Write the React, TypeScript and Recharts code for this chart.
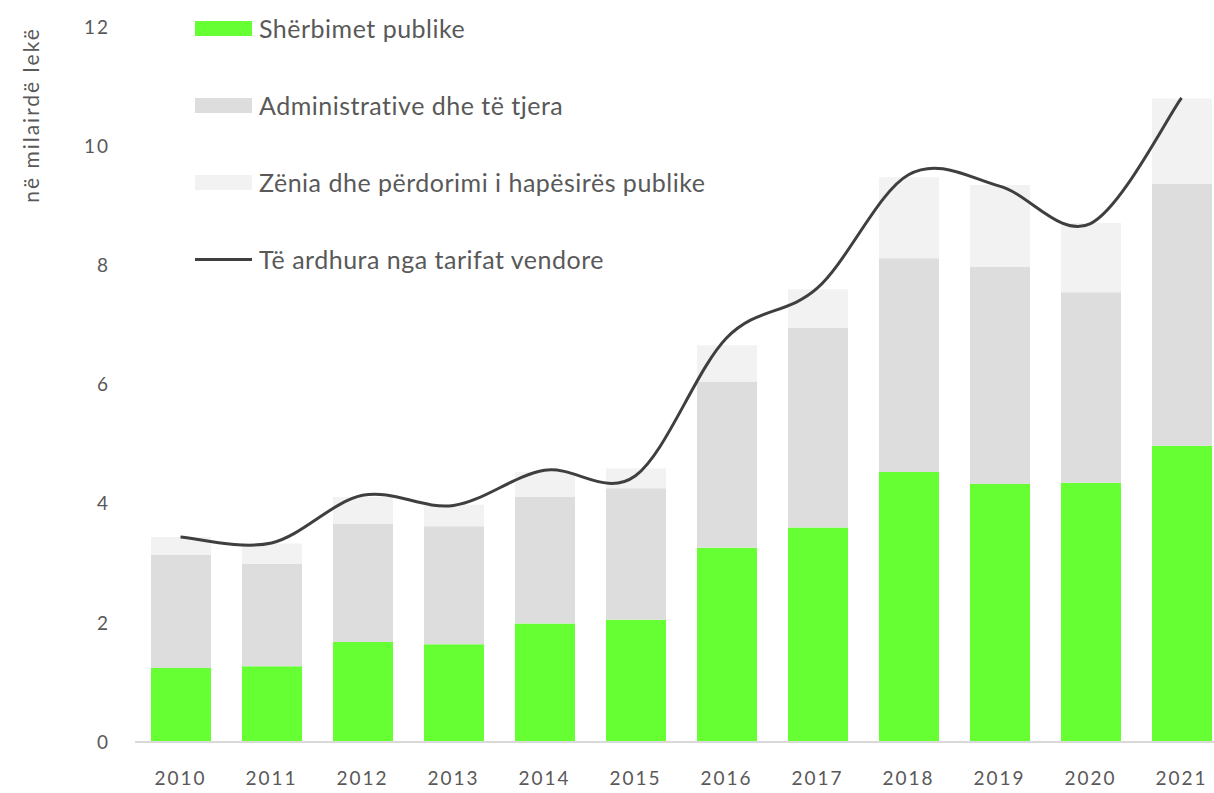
import { Bar, ComposedChart, Label, Legend, Line, XAxis, YAxis } from "recharts";

const years = ["2010", "2011", "2012", "2013", "2014", "2015", "2016", "2017", "2018", "2019", "2020", "2021"];
const sherbimet = [1.24, 1.27, 1.68, 1.64, 1.99, 2.05, 3.26, 3.6, 4.53, 4.33, 4.35, 4.97];
const administrative = [1.9, 1.72, 1.98, 1.98, 2.12, 2.21, 2.79, 3.35, 3.59, 3.64, 3.2, 4.4];
const zenia = [0.3, 0.34, 0.45, 0.36, 0.42, 0.33, 0.61, 0.65, 1.36, 1.38, 1.16, 1.43];
const tarifat = [3.44, 3.34, 4.14, 3.97, 4.56, 4.47, 6.78, 7.62, 9.52, 9.33, 8.7, 10.81];
const yTicks = [0, 2, 4, 6, 8, 10, 12];

const data = years.map((year, i) => ({
  year,
  sherbimet: sherbimet[i],
  administrative: administrative[i],
  zenia: zenia[i],
  tarifat: tarifat[i],
}));

const TEXT = "#595959";
const FONT = "Lato, 'Open Sans', sans-serif";

// excel-like smoothing (catmull-rom through the points)
const smoothCurve = (context: any) => {
  let pts: number[][] = [];
  return {
    areaStart() {},
    areaEnd() {},
    lineStart() {
      pts = [];
    },
    point(x: number, y: number) {
      pts.push([+x, +y]);
    },
    lineEnd() {
      if (!pts.length) return;
      context.moveTo(pts[0][0], pts[0][1]);
      for (let i = 0; i < pts.length - 1; i++) {
        const p0 = pts[i - 1] || pts[i];
        const p1 = pts[i];
        const p2 = pts[i + 1];
        const p3 = pts[i + 2] || p2;
        context.bezierCurveTo(
          p1[0] + (p2[0] - p0[0]) / 6,
          p1[1] + (p2[1] - p0[1]) / 6,
          p2[0] - (p3[0] - p1[0]) / 6,
          p2[1] - (p3[1] - p1[1]) / 6,
          p2[0],
          p2[1]
        );
      }
    },
  };
};

const legendItems = [
  { name: "Shërbimet publike", color: "#66FF33", type: "bar" },
  { name: "Administrative dhe të tjera", color: "#DDDDDD", type: "bar" },
  { name: "Zënia dhe përdorimi i hapësirës publike", color: "#F2F2F2", type: "bar" },
  { name: "Të ardhura nga tarifat vendore", color: "#3F3F3F", type: "line" },
];

const renderLegend = () => (
  <div style={{ fontFamily: FONT }}>
    {legendItems.map((item) => (
      <div
        key={item.name}
        style={{ display: "flex", alignItems: "center", height: 32, marginBottom: 45 }}
      >
        <div
          style={{
            width: 57,
            height: item.type === "bar" ? 15 : 3,
            background: item.color,
            marginRight: 7,
          }}
        />
        <span style={{ fontSize: 25, letterSpacing: 0.5, color: TEXT, whiteSpace: "nowrap" }}>
          {item.name}
        </span>
      </div>
    ))}
  </div>
);

const tickStyle = { fill: TEXT, fontSize: 19, fontFamily: FONT, letterSpacing: 2 };

const App = () => {
  return (
    <div
      style={{
        position: "absolute",
        left: 0,
        top: 0,
        width: 1214,
        height: 793,
        overflow: "hidden",
        background: "#fff",
      }}
    >
      <ComposedChart
        width={1227}
        height={793}
        data={data}
        margin={{ top: 27, right: 0, left: 0, bottom: 0 }}
        barSize={60}
      >
        <XAxis
          dataKey="year"
          height={51}
          axisLine={{ stroke: "#D9D9D9", strokeWidth: 2 }}
          tickLine={false}
          tickSize={0}
          tickMargin={30}
          tick={tickStyle}
        />
        <YAxis
          width={135}
          domain={[0, 12]}
          ticks={yTicks}
          axisLine={false}
          tickLine={false}
          tickSize={0}
          tickMargin={25}
          tick={tickStyle}
        >
          <Label
            content={() => (
              <text
                x={39}
                y={115}
                transform="rotate(-90, 39, 115)"
                textAnchor="middle"
                fill={TEXT}
                fontSize={21}
                letterSpacing={2}
                fontFamily={FONT}
              >
                në milairdë lekë
              </text>
            )}
          />
        </YAxis>
        <Bar dataKey="sherbimet" stackId="a" fill="#66FF33" isAnimationActive={false} />
        <Bar dataKey="administrative" stackId="a" fill="#DDDDDD" isAnimationActive={false} />
        <Bar dataKey="zenia" stackId="a" fill="#F2F2F2" isAnimationActive={false} />
        <Line
          dataKey="tarifat"
          type={smoothCurve as any}
          stroke="#3F3F3F"
          strokeWidth={3}
          dot={false}
          activeDot={false}
          isAnimationActive={false}
        />
        <Legend
          layout="vertical"
          align="center"
          verticalAlign="middle"
          content={renderLegend}
          wrapperStyle={{ left: 195, top: 12, width: 700, height: 260 }}
        />
      </ComposedChart>
    </div>
  );
};

export default App;
